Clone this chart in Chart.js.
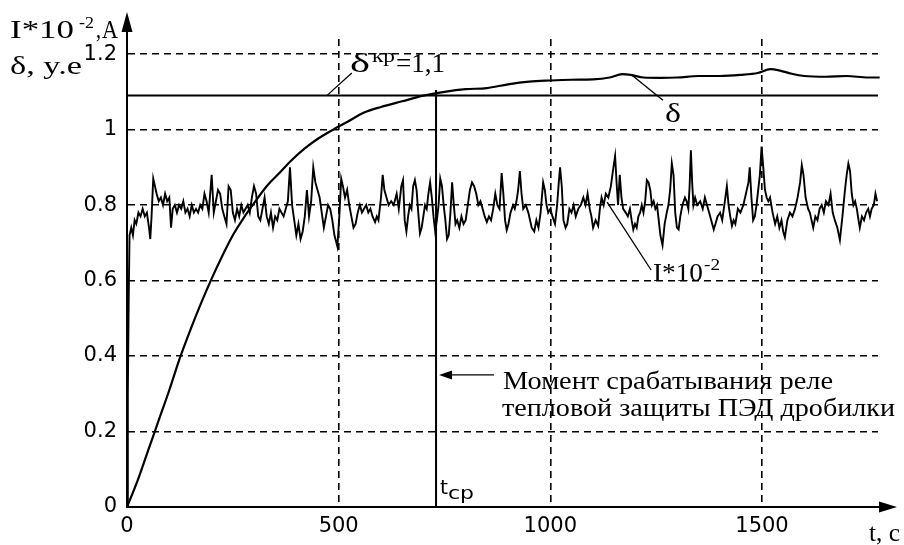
<!DOCTYPE html>
<html>
<head>
<meta charset="utf-8">
<script src="https://cdn.jsdelivr.net/npm/chart.js@4.4.0/dist/chart.umd.min.js"></script>
<style>
  html, body { margin: 0; padding: 0; background: #fff; }
  #wrap { width: 904px; height: 545px; }
</style>
</head>
<body>
<div id="wrap"><canvas id="chart_relayTrip"></canvas></div>
<script>
// current I*10^-2, A  (time, value)
const currentT = [
  0, 2, 4, 6, 10, 14, 18, 22, 27, 32, 37, 42, 47, 52, 55, 58, 62, 66, 70, 75,
  80, 85, 90, 95, 100, 104, 108, 113, 118, 123, 128, 133, 138, 143, 148, 153, 158, 163, 168, 173,
  178, 183, 188, 193, 200, 205, 210, 215, 220, 225, 230, 235, 240, 245, 250, 255, 260, 265, 270, 275,
  280, 285, 290, 295, 300, 305, 310, 315, 320, 325, 330, 335, 340, 345, 350, 355, 360, 365, 370, 375,
  380, 385, 390, 395, 400, 405, 410, 415, 420, 425, 430, 435, 440, 445, 450, 455, 460, 465, 470, 475,
  480, 485, 490, 497, 502, 506, 510, 515, 520, 525, 530, 535, 540, 545, 550, 555, 560, 565, 570, 575,
  580, 586, 590, 594, 600, 604, 608, 613, 618, 624, 630, 637, 642, 648, 652, 656, 660, 664, 668, 672,
  676, 680, 684, 688, 692, 696, 700, 704, 708, 712, 716, 720, 724, 728, 732, 736, 740, 744, 748, 752,
  756, 760, 764, 768, 772, 776, 780, 785, 790, 795, 800, 805, 810, 815, 820, 825, 830, 835, 840, 845,
  850, 855, 860, 865, 870, 875, 880, 885, 889, 893, 897, 901, 906, 912, 916, 920, 924, 928, 932, 936,
  942, 948, 952, 956, 962, 967, 972, 977, 983, 987, 991, 995, 1000, 1005, 1011, 1016, 1020, 1023, 1027, 1031,
  1036, 1040, 1045, 1050, 1055, 1060, 1066, 1072, 1078, 1083, 1088, 1093, 1097, 1101, 1107, 1113, 1117, 1121, 1126, 1131,
  1137, 1143, 1149, 1153, 1157, 1160, 1164, 1168, 1172, 1178, 1183, 1188, 1192, 1196, 1200, 1204, 1208, 1212, 1216, 1220,
  1224, 1228, 1232, 1236, 1240, 1244, 1248, 1252, 1256, 1260, 1265, 1270, 1275, 1279, 1283, 1287, 1291, 1295, 1299, 1303,
  1307, 1312, 1318, 1322, 1326, 1329, 1332, 1335, 1338, 1342, 1347, 1354, 1360, 1365, 1370, 1375, 1380, 1386, 1390, 1395,
  1401, 1406, 1411, 1417, 1421, 1425, 1429, 1433, 1437, 1443, 1449, 1456, 1462, 1468, 1471, 1475, 1479, 1483, 1487, 1491,
  1495, 1499, 1503, 1507, 1511, 1515, 1519, 1525, 1531, 1536, 1541, 1546, 1550, 1554, 1560, 1566, 1572, 1578, 1584, 1590,
  1594, 1598, 1603, 1609, 1613, 1617, 1621, 1626, 1631, 1636, 1641, 1646, 1651, 1657, 1662, 1667, 1672, 1678, 1684, 1690,
  1696, 1700, 1704, 1708, 1712, 1716, 1720, 1724, 1728, 1731, 1736, 1741, 1746, 1751, 1755, 1759, 1764, 1768, 1772
];
const currentV = [
  0, 0.30, 0.55, 0.72, 0.74, 0.72, 0.76, 0.75, 0.78, 0.77, 0.79, 0.77, 0.78, 0.74, 0.71, 0.77, 0.87, 0.85, 0.83, 0.81,
  0.82, 0.80, 0.83, 0.81, 0.82, 0.74, 0.79, 0.80, 0.78, 0.80, 0.79, 0.81, 0.78, 0.79, 0.77, 0.80, 0.78, 0.79, 0.78, 0.80,
  0.79, 0.83, 0.81, 0.78, 0.88, 0.78, 0.81, 0.84, 0.83, 0.79, 0.77, 0.75, 0.85, 0.84, 0.78, 0.76, 0.79, 0.77, 0.80, 0.78,
  0.79, 0.80, 0.78, 0.82, 0.85, 0.83, 0.77, 0.76, 0.79, 0.82, 0.77, 0.75, 0.78, 0.74, 0.77, 0.76, 0.79, 0.78, 0.77, 0.79,
  0.81, 0.90, 0.80, 0.76, 0.72, 0.75, 0.71, 0.73, 0.77, 0.84, 0.77, 0.81, 0.90, 0.86, 0.84, 0.82, 0.78, 0.74, 0.77, 0.80,
  0.79, 0.76, 0.72, 0.69, 0.78, 0.87, 0.85, 0.82, 0.84, 0.80, 0.77, 0.74, 0.75, 0.78, 0.80, 0.78, 0.79, 0.80, 0.78, 0.79,
  0.77, 0.755, 0.77, 0.76, 0.82, 0.88, 0.84, 0.82, 0.80, 0.81, 0.80, 0.83, 0.79, 0.85, 0.866, 0.76, 0.73, 0.77, 0.80, 0.79,
  0.85, 0.866, 0.84, 0.78, 0.725, 0.74, 0.77, 0.80, 0.79, 0.83, 0.86, 0.82, 0.77, 0.73, 0.76, 0.80, 0.87, 0.85, 0.80, 0.76,
  0.71, 0.72, 0.78, 0.86, 0.80, 0.75, 0.76, 0.74, 0.77, 0.75, 0.76, 0.80, 0.84, 0.86, 0.85, 0.83, 0.80, 0.81, 0.79, 0.77,
  0.755, 0.77, 0.76, 0.79, 0.83, 0.80, 0.79, 0.885, 0.83, 0.76, 0.734, 0.75, 0.78, 0.80, 0.79, 0.81, 0.84, 0.89, 0.83, 0.79,
  0.80, 0.78, 0.76, 0.74, 0.73, 0.76, 0.74, 0.78, 0.86, 0.84, 0.80, 0.78, 0.79, 0.77, 0.75, 0.80, 0.86, 0.90, 0.85, 0.76,
  0.74, 0.75, 0.79, 0.78, 0.80, 0.77, 0.79, 0.80, 0.82, 0.80, 0.83, 0.79, 0.77, 0.74, 0.76, 0.745, 0.79, 0.82, 0.80, 0.83,
  0.82, 0.85, 0.90, 0.93, 0.85, 0.80, 0.88, 0.82, 0.79, 0.78, 0.77, 0.79, 0.76, 0.735, 0.75, 0.74, 0.77, 0.78, 0.80, 0.78,
  0.81, 0.866, 0.86, 0.84, 0.80, 0.81, 0.79, 0.80, 0.76, 0.72, 0.694, 0.75, 0.78, 0.80, 0.84, 0.91, 0.88, 0.78, 0.74, 0.735,
  0.77, 0.80, 0.82, 0.81, 0.79, 0.85, 0.945, 0.86, 0.80, 0.82, 0.80, 0.81, 0.79, 0.82, 0.80, 0.78, 0.76, 0.735, 0.75, 0.77,
  0.78, 0.76, 0.80, 0.85, 0.80, 0.77, 0.745, 0.76, 0.75, 0.79, 0.78, 0.80, 0.83, 0.86, 0.90, 0.82, 0.76, 0.77, 0.80, 0.84,
  0.88, 0.955, 0.90, 0.84, 0.82, 0.81, 0.82, 0.78, 0.75, 0.77, 0.74, 0.76, 0.73, 0.715, 0.76, 0.78, 0.77, 0.79, 0.82, 0.86,
  0.906, 0.88, 0.82, 0.79, 0.78, 0.76, 0.74, 0.77, 0.76, 0.79, 0.80, 0.78, 0.81, 0.80, 0.83, 0.78, 0.76, 0.74, 0.707, 0.77,
  0.84, 0.88, 0.91, 0.89, 0.83, 0.80, 0.81, 0.79, 0.76, 0.74, 0.77, 0.76, 0.78, 0.79, 0.77, 0.79, 0.80, 0.83, 0.81
];

// thermal state delta, relative units
const deltaT = [
  0, 25, 50, 75, 100, 125, 150, 175, 200, 225, 250, 275, 300, 330, 360, 390, 420, 450, 487, 520,
  560, 600, 650, 700, 750, 800, 850, 900, 950, 1000, 1050, 1100, 1140, 1170, 1190, 1220, 1260, 1300, 1350, 1400,
  1450, 1490, 1520, 1540, 1570, 1600, 1650, 1700, 1750, 1778
];
const deltaV = [
  0, 0.07, 0.15, 0.23, 0.31, 0.395, 0.47, 0.54, 0.605, 0.665, 0.72, 0.765, 0.805, 0.85, 0.885, 0.92, 0.95, 0.975, 1.00, 1.02,
  1.045, 1.06, 1.075, 1.09, 1.10, 1.107, 1.11, 1.12, 1.127, 1.13, 1.132, 1.133, 1.138, 1.147, 1.145, 1.138, 1.137, 1.138, 1.142, 1.142,
  1.145, 1.15, 1.16, 1.157, 1.148, 1.142, 1.14, 1.142, 1.138, 1.138
];

const deltaCrit = 1.09;   // drawn level of delta_kr
const tripTime = 730;     // relay trip moment t_cp
const xTickValues = [0, 500, 1000, 1500];
const yTickValues = [0, 0.2, 0.4, 0.6, 0.8, 1, 1.2];
const xMax = 1774;
const yMax = 1.24;

const toPoints = (xs, ys) => xs.map((x, i) => ({ x: x, y: ys[i] }));

const serif = '"Liberation Serif", "Times New Roman", serif';
const sans = '"DejaVu Sans", sans-serif';

function arrowHead(ctx, tipX, tipY, dir, len, half) {
  ctx.beginPath();
  if (dir === 'up') {
    ctx.moveTo(tipX, tipY); ctx.lineTo(tipX - half, tipY + len); ctx.lineTo(tipX + half, tipY + len);
  } else if (dir === 'right') {
    ctx.moveTo(tipX, tipY); ctx.lineTo(tipX - len, tipY - half); ctx.lineTo(tipX - len, tipY + half);
  } else {
    ctx.moveTo(tipX, tipY); ctx.lineTo(tipX + len, tipY - half); ctx.lineTo(tipX + len, tipY + half);
  }
  ctx.closePath();
  ctx.fill();
}

function line(ctx, x1, y1, x2, y2, w) {
  ctx.beginPath();
  ctx.lineWidth = w;
  ctx.moveTo(x1, y1);
  ctx.lineTo(x2, y2);
  ctx.stroke();
}

// the scanned original is stretched sideways, so each label is squeezed to its width
function fitText(ctx, text, x, y, size, family, width) {
  ctx.font = size + 'px ' + family;
  const k = width / ctx.measureText(text).width;
  ctx.save();
  ctx.translate(x, y);
  ctx.scale(k, 1);
  ctx.fillText(text, 0, 0);
  ctx.restore();
}

const decorations = {
  id: 'decorations',
  afterDraw: (chart) => {
    const ctx = chart.ctx;
    const xs = chart.scales.x, ys = chart.scales.y;
    const X = v => xs.getPixelForValue(v), Y = v => ys.getPixelForValue(v);
    const a = chart.chartArea;
    ctx.save();
    ctx.fillStyle = '#000';
    ctx.strokeStyle = '#000';
    ctx.textBaseline = 'alphabetic';
    ctx.textAlign = 'left';

    // axis arrows
    line(ctx, a.left, a.top, a.left, 22, 2);
    arrowHead(ctx, a.left, 12, 'up', 20, 5.5);
    line(ctx, a.right, a.bottom, 884, a.bottom, 2);
    arrowHead(ctx, 897, a.bottom, 'right', 18, 5.5);

    // y axis title
    fitText(ctx, 'I*10', 10, 38, 26, serif, 64);
    fitText(ctx, '-2', 79, 28, 17, serif, 15);
    fitText(ctx, ',', 96, 38, 26, serif, 5);
    fitText(ctx, 'A', 102, 38, 26, serif, 16);
    fitText(ctx, '\u03B4, y.e', 10, 74, 26, serif, 72);

    // x axis title
    fitText(ctx, 't, c', 869, 541, 25, serif, 31);

    // delta_kr label with leader
    line(ctx, X(472), Y(deltaCrit), X(531), Y(1.15), 1.3);
    fitText(ctx, '\u03B4', 350, 72, 27, serif, 20);
    fitText(ctx, '\u043A\u0440', 372, 62, 19, serif, 23);
    fitText(ctx, '=1,1', 396, 72, 27, serif, 49);

    // delta label
    line(ctx, X(1193), Y(1.144), X(1266), Y(1.078), 1.3);
    fitText(ctx, '\u03B4', 665, 122, 27, serif, 16);

    // current label
    line(ctx, X(1134), Y(0.808), X(1238), Y(0.628), 1.3);
    fitText(ctx, 'I*10', 653, 281, 26, serif, 50);
    fitText(ctx, '-2', 704, 270, 17, serif, 16);

    // trip moment arrow and text
    line(ctx, X(tripTime) + 10, Y(0.35), 494, Y(0.35), 1.3);
    arrowHead(ctx, X(tripTime) + 3, Y(0.35), 'left', 13, 4.5);
    fitText(ctx, '\u041C\u043E\u043C\u0435\u043D\u0442 \u0441\u0440\u0430\u0431\u0430\u0442\u044B\u0432\u0430\u043D\u0438\u044F \u0440\u0435\u043B\u0435', 503, 389, 25, serif, 330);
    fitText(ctx, '\u0442\u0435\u043F\u043B\u043E\u0432\u043E\u0439 \u0437\u0430\u0449\u0438\u0442\u044B \u041F\u042D\u0414 \u0434\u0440\u043E\u0431\u0438\u043B\u043A\u0438', 502, 416, 25, serif, 393);

    // t_cp
    fitText(ctx, 't', X(tripTime) + 4, 494, 20, sans, 8);
    fitText(ctx, '\u0441\u0440', X(tripTime) + 12, 499, 17, sans, 26);

    ctx.restore();
  }
};

const onlyTicks = list => scale => {
  scale.ticks = list.map(v => ({ value: v }));
};

const chart_relayTrip = new Chart(document.getElementById('chart_relayTrip'), {
  type: 'line',
  data: {
    datasets: [
      {
        label: 'I*10^-2',
        data: toPoints(currentT, currentV),
        borderColor: '#000',
        borderWidth: 1.9,
        pointRadius: 0,
        tension: 0
      },
      {
        label: 'delta',
        data: toPoints(deltaT, deltaV),
        borderColor: '#000',
        borderWidth: 2.2,
        pointRadius: 0,
        cubicInterpolationMode: 'monotone',
        clip: false
      },
      {
        label: 'delta_kr',
        data: toPoints([0, xMax], [deltaCrit, deltaCrit]),
        borderColor: '#000',
        borderWidth: 2,
        pointRadius: 0,
        clip: false
      },
      {
        label: 't_cp',
        data: toPoints([tripTime, tripTime], [0, 1.105]),
        borderColor: '#000',
        borderWidth: 2,
        pointRadius: 0
      }
    ]
  },
  options: {
    animation: false,
    responsive: true,
    maintainAspectRatio: false,
    layout: { padding: { left: 0, top: 39, right: 26, bottom: 0 } },
    plugins: {
      legend: { display: false },
      tooltip: { enabled: false }
    },
    scales: {
      x: {
        type: 'linear',
        min: 0,
        max: xMax,
        afterBuildTicks: onlyTicks(xTickValues),
        afterFit: s => { s.height = 38; },
        grid: {
          color: ctx => ctx.tick && ctx.tick.value === 0 ? 'rgba(0,0,0,0)' : '#000',
          lineWidth: 1.6,
          drawTicks: false
        },
        border: { display: true, color: '#000', width: 2, dash: [7, 5] },
        ticks: {
          color: '#000',
          padding: 7,
          maxRotation: 0,
          font: { family: 'DejaVu Sans', size: 21 },
          callback: v => String(v)
        }
      },
      y: {
        type: 'linear',
        min: 0,
        max: yMax,
        afterBuildTicks: onlyTicks(yTickValues),
        afterFit: s => { s.width = 127; },
        grid: {
          color: ctx => ctx.tick && ctx.tick.value === 0 ? 'rgba(0,0,0,0)' : '#000',
          lineWidth: 1.6,
          drawTicks: false
        },
        border: { display: true, color: '#000', width: 2, dash: [7, 5] },
        ticks: {
          color: '#000',
          padding: 10,
          font: { family: 'DejaVu Sans', size: 21 },
          callback: v => (v === 0 || v === 1) ? String(v) : v.toFixed(1)
        }
      }
    }
  },
  plugins: [decorations, {
    id: 'whiteBackground',
    beforeDraw: (chart) => {
      const ctx = chart.canvas.getContext('2d');
      ctx.save();
      ctx.globalCompositeOperation = 'destination-over';
      ctx.fillStyle = 'white';
      ctx.fillRect(0, 0, chart.canvas.width, chart.canvas.height);
      ctx.restore();
    }
  }]
});
</script>
</body>
</html>
